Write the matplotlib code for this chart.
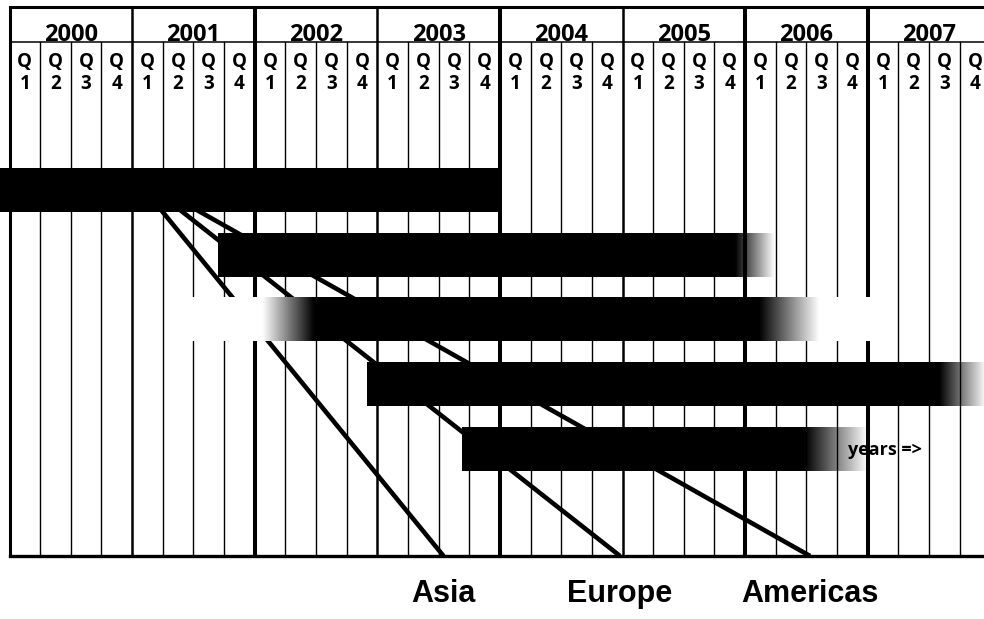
import numpy as np
import matplotlib
matplotlib.use("Agg")
import matplotlib.pyplot as plt

# timeline (years, one column per quarter)
years = [2000, 2001, 2002, 2003, 2004, 2005, 2006, 2007]
quarter_nums = ["1", "2", "3", "4"]
year_line_w = [2.2, 1.8, 2.9, 1.8, 2.9, 1.8, 2.9, 2.9]

# project bars: start, fade-in end, solid end, fade-out end
bar_start = [1999.5, 2001.70, 2002.06, 2002.92, 2003.69]
bar_full = [1999.5, 2001.70, 2002.48, 2002.92, 2003.69]
bar_solid_end = [2004.0, 2005.92, 2006.12, 2007.59, 2006.49]
bar_end = [2004.0, 2006.24, 2006.61, 2007.97, 2007.00]
# blank band behind the third bar
blank_span = (2001.41, 2007.12)
bar_note = "years =>"
note_end = 2007.44

# regional launches, linked from the first bar
regions = ["Asia", "Europe", "Americas"]
link_start = [2001.21, 2001.35, 2001.47]
launch = [2003.54, 2004.98, 2006.53]

PX_YEAR = 122.6
LEFT_PX = 9.5
W, H = 984, 619


def yr(px):
    return 2000 + (px - LEFT_PX) / PX_YEAR


TOP, HEAD, BOTTOM = 7, 42, 556
BAR_TOP0, BAR_STEP, BAR_H = 168, 64.7, 44

fig = plt.figure(figsize=(W / 100, H / 100), dpi=100)
ax = fig.add_axes([0, 0, 1, 1])
ax.axis("off")

x_right = yr(W) + 0.2

# grid
for i, y in enumerate(years):
    ax.plot([y, y], [TOP, BOTTOM], color="black", lw=year_line_w[i], zorder=1,
            solid_capstyle="butt")
    for q in range(1, 4):
        xq = y + q / 4
        ax.plot([xq, xq], [HEAD, BOTTOM], color="black", lw=1.0, zorder=1)
    ax.text(y + 0.5, 41, str(y), ha="center", va="baseline", fontsize=17,
            fontweight="bold", family="Open Sans", zorder=5)
    for q, n in enumerate(quarter_nums):
        xc = y + (q + 0.5) / 4
        ax.text(xc, 62, "Q", ha="center", va="center", fontsize=13.5,
                fontweight="bold", family="Open Sans", zorder=5)
        ax.text(xc, 84, n, ha="center", va="center", fontsize=13.5,
                fontweight="bold", family="Open Sans", zorder=5)

ax.plot([2000, x_right], [TOP, TOP], color="black", lw=2.2, zorder=1)
ax.plot([2000, x_right], [HEAD, HEAD], color="black", lw=1.1, zorder=1)
ax.plot([2000, x_right], [BOTTOM, BOTTOM], color="black", lw=2.4, zorder=1)

# links from the first bar down to each launch
for s, e in zip(link_start, launch):
    ax.plot([s, e], [BAR_TOP0 + BAR_H - 6, BOTTOM], color="black", lw=3.3,
            zorder=2, solid_capstyle="butt")

# bars with a black -> clear fade
for i in range(len(bar_start)):
    top = BAR_TOP0 + i * BAR_STEP
    bot = top + BAR_H
    if i == 2:
        ax.fill_between(blank_span, top, bot, color="white", lw=0, zorder=3)
    xs = np.linspace(bar_start[i], bar_end[i], 600)
    alpha = np.interp(xs, [bar_start[i], bar_full[i], bar_solid_end[i], bar_end[i]],
                      [0.0 if bar_full[i] > bar_start[i] else 1.0, 1.0, 1.0,
                       0.0 if bar_end[i] > bar_solid_end[i] else 1.0])
    img = np.zeros((1, len(xs), 4))
    img[0, :, 3] = alpha
    ax.imshow(img, extent=[bar_start[i], bar_end[i], bot, top], aspect="auto",
              interpolation="bilinear", zorder=4)

# note at the end of the last bar
ax.text(note_end, BAR_TOP0 + 4 * BAR_STEP + BAR_H / 2 + 1, bar_note, ha="right",
        va="center", fontsize=13, fontweight="bold", family="Open Sans", zorder=3.5)

for name, x in zip(regions, launch):
    ax.text(x, 594, name, ha="center", va="center", fontsize=22,
            fontweight="bold", family="Liberation Sans", zorder=5)

ax.set_xlim(yr(0), yr(W))
ax.set_ylim(H, 0)

fig.savefig("out.png", dpi=100, facecolor="white")
